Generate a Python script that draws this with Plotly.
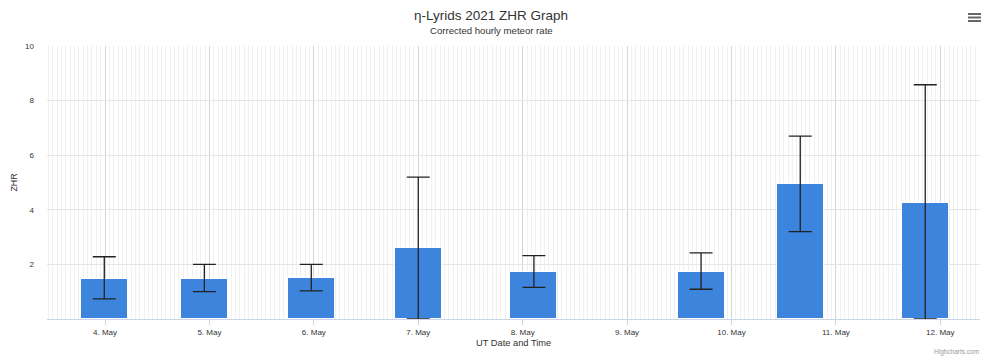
import plotly.graph_objects as go

# Observation times (UT) and corrected hourly rates with their confidence bounds
obs_times = [
    "2021-05-03 23:50", "2021-05-04 22:50", "2021-05-05 23:25", "2021-05-07 00:00",
    "2021-05-08 02:35", "2021-05-09 17:00", "2021-05-10 15:48", "2021-05-11 20:32",
]
zhr = [1.47, 1.47, 1.49, 2.59, 1.71, 1.72, 4.93, 4.26]
zhr_high = [2.28, 2.00, 2.00, 5.20, 2.32, 2.42, 6.70, 8.58]
zhr_low = [0.74, 1.00, 1.03, 0.00, 1.16, 1.09, 3.20, 0.00]

y_ticks = [2, 4, 6, 8, 10]
x_range = ["2021-05-03 10:40", "2021-05-12 09:07"]

W, H = 982, 359
L, R, T, B = 47, 2, 46, 40
FONT = "Liberation Sans, Arial, sans-serif"

err_plus = [h - v for h, v in zip(zhr_high, zhr)]
err_minus = [v - l for v, l in zip(zhr, zhr_low)]

fig = go.Figure()
fig.add_trace(go.Bar(
    x=obs_times,
    y=zhr,
    width=0.45 * 86400000,
    marker=dict(color="#3d85dc", line=dict(color="#ffffff", width=1)),
    error_y=dict(
        type="data", symmetric=False, array=err_plus, arrayminus=err_minus,
        color="#222222", thickness=1.3, width=11.5,
    ),
    name="ZHR",
    showlegend=False,
))


def px_x(px):
    return (px - L) / (W - L - R)


def px_y(py):
    return (H - B - py) / (H - T - B)


# menu icon in the top-right corner
shapes = []
for yy in (14, 17.5, 21):
    shapes.append(dict(
        type="line", xref="paper", yref="paper",
        x0=px_x(968), x1=px_x(981), y0=px_y(yy), y1=px_y(yy),
        line=dict(color="#666666", width=2),
    ))

fig.update_layout(
    width=W, height=H,
    margin=dict(l=L, r=R, t=T, b=B),
    paper_bgcolor="white",
    plot_bgcolor="white",
    font=dict(family=FONT, color="#666666"),
    title=dict(
        text="η-Lyrids 2021 ZHR Graph",
        x=0.5, xanchor="center", xref="container",
        y=1 - 15 / H, yanchor="middle", yref="container",
        font=dict(size=13.5, color="#333333", family=FONT),
    ),
    bargap=0,
    shapes=shapes,
    annotations=[
        dict(text="Corrected hourly meteor rate", xref="paper", yref="paper",
             x=px_x(W / 2), y=px_y(31), xanchor="center", yanchor="middle",
             showarrow=False, font=dict(size=9.6, color="#333333", family=FONT)),
        dict(text="Highcharts.com", xref="paper", yref="paper",
             x=px_x(981), y=px_y(352), xanchor="right", yanchor="middle",
             showarrow=False, font=dict(size=6.5, color="#999999", family=FONT)),
        dict(text="ZHR", xref="paper", yref="paper",
             x=px_x(13), y=0.5, xanchor="center", yanchor="middle", textangle=-90,
             showarrow=False, font=dict(size=8.8, color="#333333", family=FONT)),
        dict(text="UT Date and Time", xref="paper", yref="paper",
             x=0.5, y=px_y(343), xanchor="center", yanchor="middle",
             showarrow=False, font=dict(size=9.3, color="#333333", family=FONT)),
    ],
)

fig.update_xaxes(
    type="date",
    range=x_range,
    dtick=86400000,
    tick0="2021-05-01",
    tickformat="%-d. %b",
    showgrid=True,
    gridcolor="#d4d4d4",
    gridwidth=1,
    minor=dict(dtick=3600000, showgrid=True, gridcolor="#f0f0f0", gridwidth=1),
    showline=True,
    linecolor="#ccd6eb",
    linewidth=1,
    ticks="outside",
    ticklen=5,
    tickcolor="#ccd6eb",
    tickfont=dict(size=8, color="#333333", family=FONT),
    zeroline=False,
)

fig.update_yaxes(
    range=[0, 10],
    tickvals=y_ticks,
    ticktext=[str(v) for v in y_ticks],
    showgrid=True,
    gridcolor="#e6e6e6",
    gridwidth=1,
    zeroline=False,
    showline=False,
    ticks="",
    ticklabelstandoff=12,
    tickfont=dict(size=8, color="#333333", family=FONT),
)

fig.write_html("out.html")
